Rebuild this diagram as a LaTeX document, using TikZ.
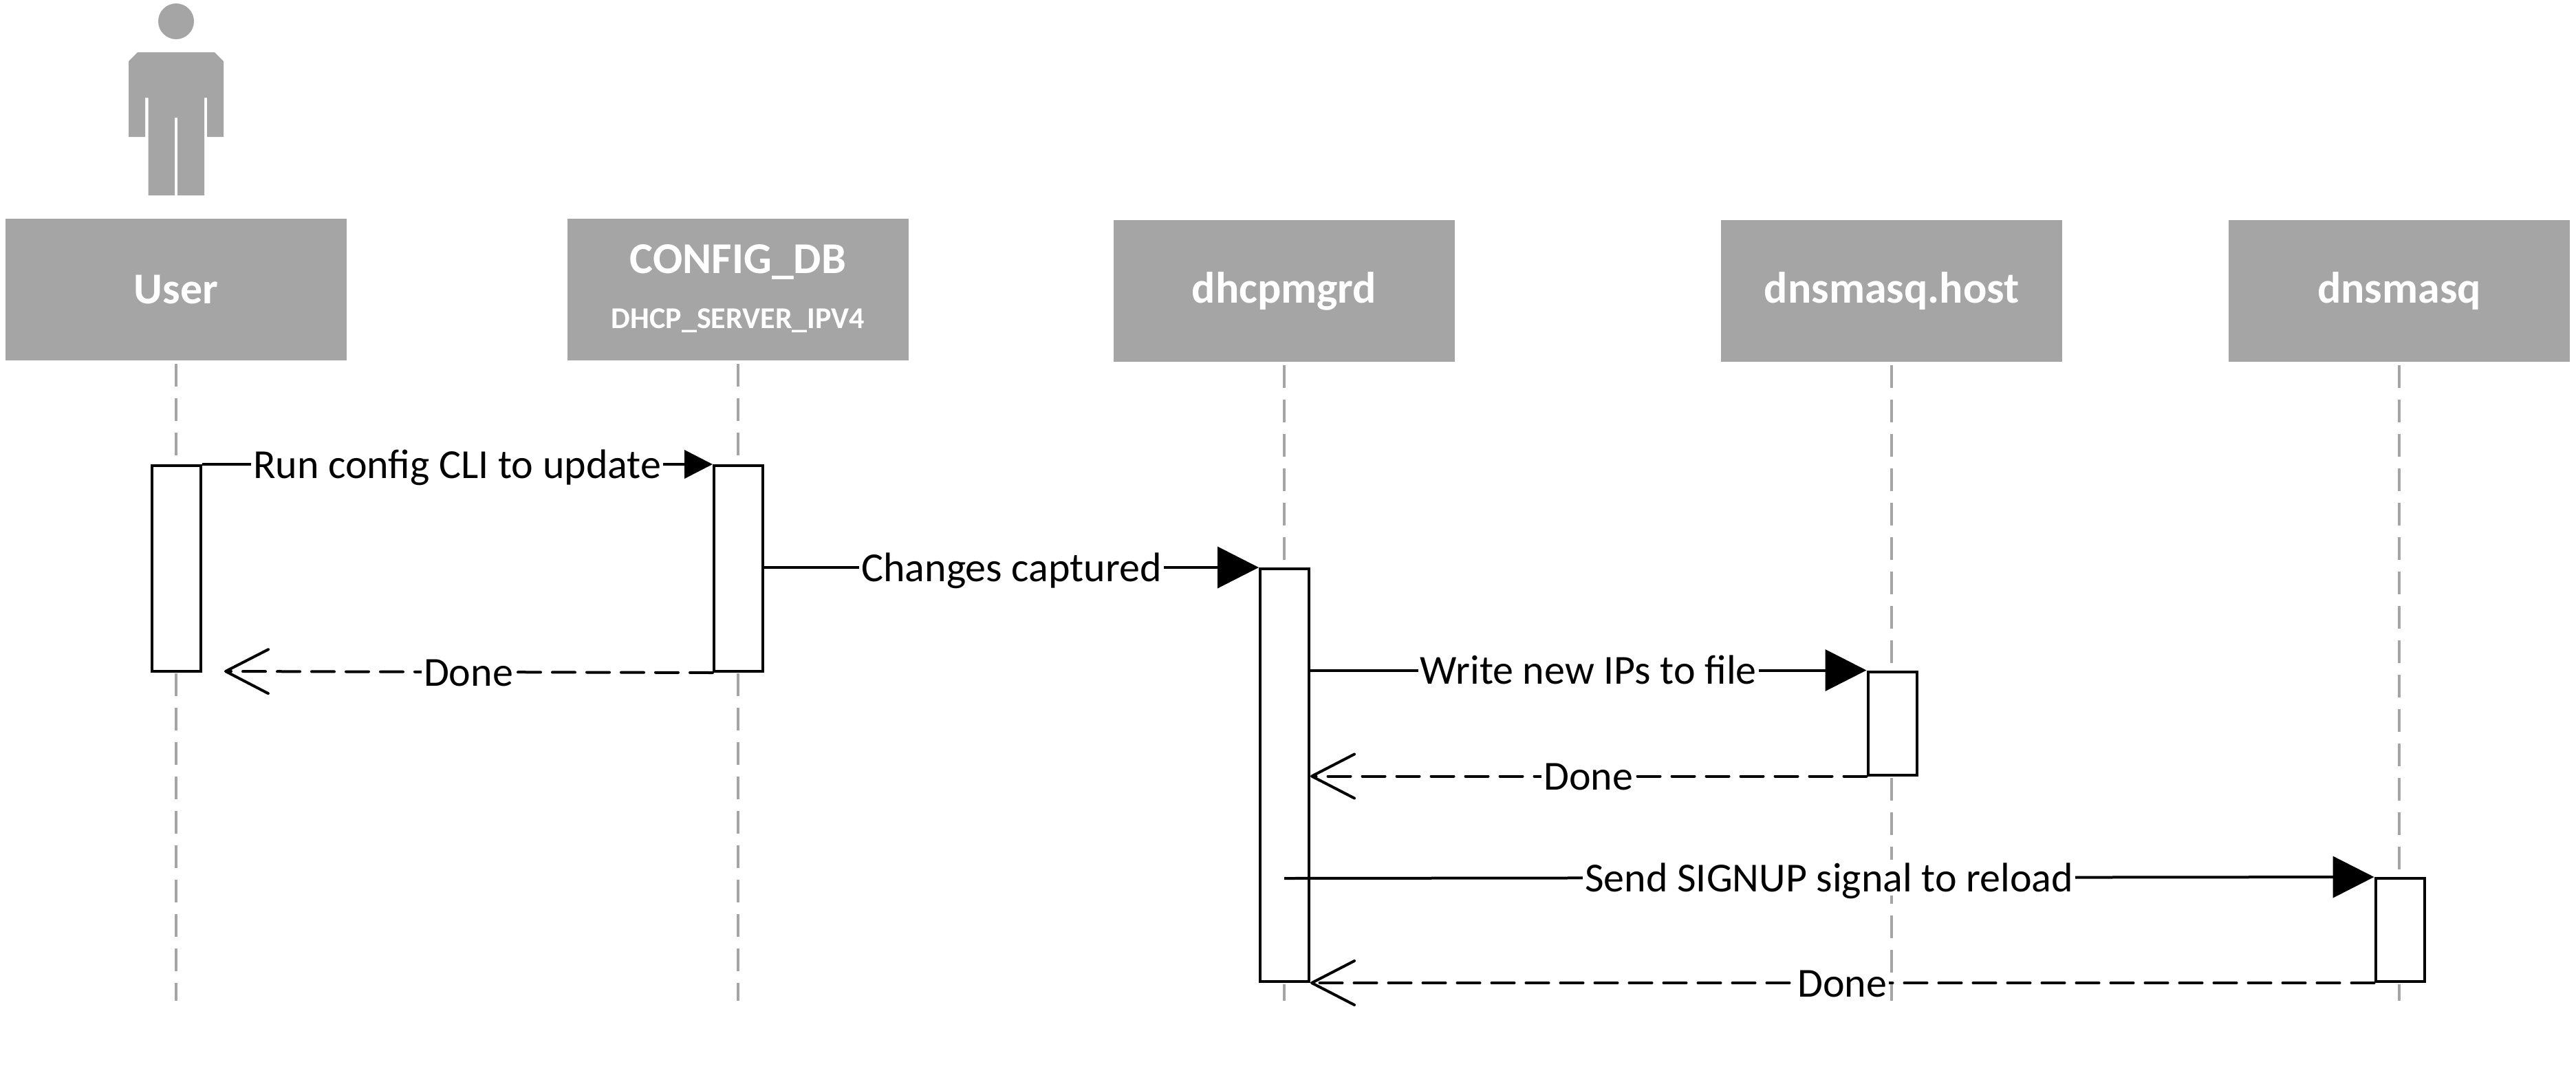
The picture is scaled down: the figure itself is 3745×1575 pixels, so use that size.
\documentclass[tikz,border=0pt]{standalone}
\usepackage{fontspec}
\setmainfont{Carlito}
\usetikzlibrary{arrows.meta}
\definecolor{hdr}{HTML}{A5A5A5}
\tikzset{
  x=1pt,y=-1pt,
  hdrbox/.style={rectangle,fill=hdr,draw=none,minimum width=496pt,minimum height=206pt,inner sep=0pt,font=\fontsize{64}{70}\selectfont\bfseries,text=white,align=center},
  lifeln/.style={draw=hdr,line width=4pt,dash pattern=on 33pt off 17pt},
  activ/.style={rectangle,draw=black,fill=white,line width=4pt,minimum width=71pt,inner sep=0pt},
  msg/.style={draw=black,line width=4pt,-{Triangle[length=#1,width=#1]}},
  msg/.default=60pt,
  ret/.style={draw=black,line width=4pt,dash pattern=on 33pt off 17pt,line cap=round,-{Straight Barb[length=62pt,width=64pt,round]}},
  lbl/.style={fill=white,inner xsep=3pt,inner ysep=0pt,font=\fontsize{60}{70}\selectfont,text height=46pt,text depth=6pt},
}
\begin{document}
\begin{tikzpicture}
\useasboundingbox (0,0) rectangle (3745,1575);
% actor
\fill[hdr] (256,31) ellipse [x radius=26,y radius=26];
\fill[hdr] (200,76) -- (312,76) -- (325,89) -- (325,199) -- (301,199) -- (301,142) -- (297,142) -- (297,284) -- (258,284) -- (258,171) -- (254,171) -- (254,284) -- (215.5,284) -- (215.5,142) -- (211,142) -- (211,199) -- (187,199) -- (187,89) -- cycle;
% headers
\node[hdrbox] (hU) at (256,421) {\rule{0pt}{0pt}User};
\node[hdrbox] (hC) at (1073,421) {};
\node[font=\fontsize{64}{70}\selectfont\bfseries,text=white,inner sep=0pt] (hC1) at (1073,381) {CONFIG\_DB};
\node[font=\fontsize{44}{50}\selectfont\bfseries,text=white,inner sep=0pt] (hC2) at (1073,466) {DHCP\_SERVER\_IPV4};
\node[hdrbox] (hD) at (1867,423) {dhcpmgrd};
\node[hdrbox] (hH) at (2750,423) {dnsmasq.host};
\node[hdrbox] (hQ) at (3488,423) {dnsmasq};
% lifelines
\coordinate (eU) at (256,1455);
\coordinate (eC) at (1073,1455);
\coordinate (eD) at (1867,1455);
\coordinate (eH) at (2750,1455);
\coordinate (eQ) at (3488,1455);
\draw[lifeln] ([yshift=-5pt]hU.south) -- (eU);
\draw[lifeln] ([yshift=-5pt]hC.south) -- (eC);
\draw[lifeln] ([yshift=-5pt]hD.south) -- (eD);
\draw[lifeln] ([yshift=-5pt]hH.south) -- (eH);
\draw[lifeln] ([yshift=-5pt]hQ.south) -- (eQ);
% activations
\node[activ,minimum height=299pt] (aU) at (256,826.5) {};
\node[activ,minimum height=299pt] (aC) at (1073.5,826.5) {};
\node[activ,minimum height=600pt] (aD) at (1867.5,1127) {};
\node[activ,minimum height=150pt] (aH) at (2751,1051.5) {};
\node[activ,minimum height=150pt] (aQ) at (3489,1352) {};
% free ends
\coordinate (rU) at (326,976);
\coordinate (sD) at (1867,1277);
% messages
\draw[msg=41pt] (aU.north east) -- node[lbl] (m1) {Run config CLI to update} (aC.north west);
\draw[msg=60pt] (aC.east |- aD.north) -- node[lbl] (m2) {Changes captured} (aD.north west);
\draw[ret] (aC.south west) -- node[lbl] (r1) {Done} (rU);
\draw[msg=60pt] (aD.east |- aH.north) -- node[lbl] (m3) {Write new IPs to file} (aH.north west);
\draw[ret] (aH.south west) -- node[lbl] (r2) {Done} (aD.east |- aH.south);
\draw[msg=60pt] (sD) -- node[lbl] (m4) {Send SIGNUP signal to reload} (aQ.north west);
\draw[ret] (aQ.south west) -- node[lbl] (r3) {Done} (aD.south east);
\end{tikzpicture}
\end{document}
